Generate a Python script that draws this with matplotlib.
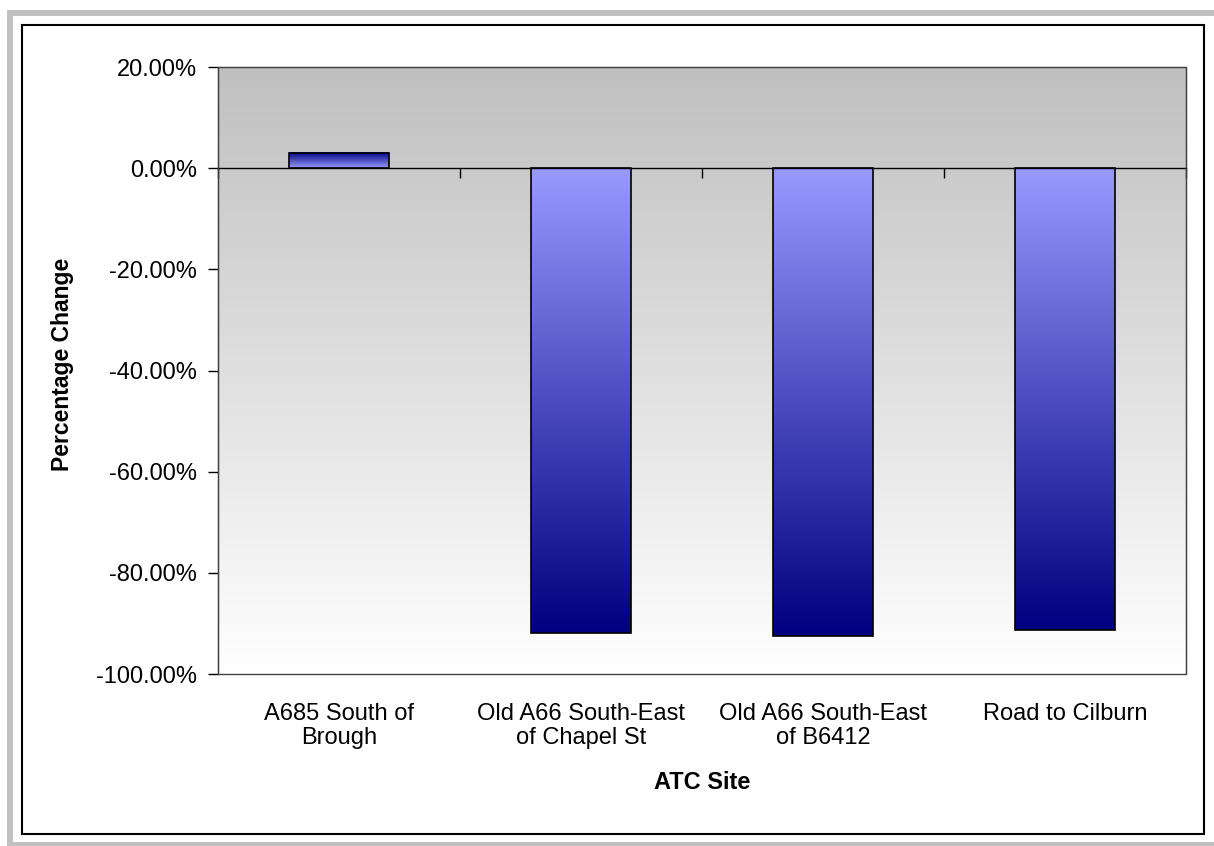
import matplotlib
matplotlib.use('Agg')
import matplotlib.pyplot as plt
from matplotlib.patches import Rectangle
from matplotlib.colors import LinearSegmentedColormap
import numpy as np

plt.rcParams['font.family'] = ['Liberation Sans', 'DejaVu Sans']

# Данные
sites = ['A685 South of\nBrough', 'Old A66 South-East\nof Chapel St',
         'Old A66 South-East\nof B6412', 'Road to Cilburn']
change = [3.05, -91.8, -92.4, -91.3]
y_ticks = [20, 0, -20, -40, -60, -80, -100]

W, H = 1214, 846
fig = plt.figure(figsize=(W / 100, H / 100), dpi=100)
fig.patch.set_facecolor('white')


def px_rect(x0, y0, x1, y1, **kw):
    """Прямоугольник в пикселях (y сверху вниз)"""
    r = Rectangle((x0 / W, 1 - y1 / H), (x1 - x0) / W, (y1 - y0) / H,
                  transform=fig.transFigure, **kw)
    fig.add_artist(r)


# Серая рамка и чёрная граница
px_rect(7, 10, 1214, 16.5, facecolor='#c0c0c0', edgecolor='none')
px_rect(7, 10, 13, 846, facecolor='#c0c0c0', edgecolor='none')
px_rect(7, 842, 1214, 846, facecolor='#c0c0c0', edgecolor='none')
px_rect(22, 25, 1204, 834, facecolor='none', edgecolor='black', lw=1.5)

# Область графика
left, right, top, bottom = 218, 1186, 67, 674
ax = fig.add_axes([left / W, 1 - bottom / H, (right - left) / W, (bottom - top) / H])

# Градиентный фон: серый сверху, белый снизу
bg = np.linspace(0, 1, 256).reshape(-1, 1)
bg_cmap = LinearSegmentedColormap.from_list('bg', ['#c0c0c0', '#ffffff'])
ax.imshow(bg, cmap=bg_cmap, aspect='auto', extent=[-0.5, len(sites) - 0.5, -100, 20],
          origin='upper', zorder=0, vmin=0, vmax=1)

# Столбцы с градиентом: светлый у нуля, тёмный на конце
bar_cmap = LinearSegmentedColormap.from_list('bar', ['#9999ff', '#000080'])
bar_w = 0.41
grad = np.linspace(0, 1, 256).reshape(-1, 1)
for i, v in enumerate(change):
    x0, x1 = i - bar_w / 2, i + bar_w / 2
    if v >= 0:
        ax.imshow(grad, cmap=bar_cmap, aspect='auto', extent=[x0, x1, 0, v],
                  origin='lower', zorder=2, vmin=0, vmax=1)
    else:
        ax.imshow(grad[::-1], cmap=bar_cmap, aspect='auto', extent=[x0, x1, v, 0],
                  origin='lower', zorder=2, vmin=0, vmax=1)
ax.bar(range(len(sites)), change, width=bar_w, facecolor='none',
       edgecolor='black', linewidth=1.2, zorder=3)

ax.set_xlim(-0.5, len(sites) - 0.5)
ax.set_ylim(-100, 20)

# Ось X на нуле с засечками на границах категорий
ax.spines['bottom'].set_position(('data', 0))
ax.spines['bottom'].set_linewidth(1)
ax.spines['bottom'].set_zorder(4)
ax.set_xticks(np.arange(-0.5, len(sites)))
ax.set_xticklabels([])
ax.tick_params(axis='x', direction='out', length=7, width=1, color='black')
for sp in ['top', 'right']:
    ax.spines[sp].set_color('#404040')
ax.spines['left'].set_color('black')
ax.add_patch(Rectangle((0, 0), 1, 1, transform=ax.transAxes, fill=False,
                       edgecolor='#404040', lw=1, zorder=5, clip_on=False))

ax.set_yticks(y_ticks)
ax.set_yticklabels([f'{t:.2f}%' for t in y_ticks], fontsize=17)
ax.tick_params(axis='y', direction='out', length=7, width=1, pad=8)

# Подписи категорий под областью графика
for i, s in enumerate(sites):
    ax.text(i, -0.047, s, transform=ax.get_xaxis_transform(), ha='center', va='top',
            fontsize=17, linespacing=1.15)

fig.text((left + right) / 2 / W, 1 - 782 / H, 'ATC Site', ha='center', va='center',
         fontsize=17, fontweight='bold')
fig.text(63 / W, 1 - 364 / H, 'Percentage Change', ha='center', va='center',
         rotation=90, fontsize=16.5, fontweight='bold')

fig.savefig('out.png', dpi=100)
